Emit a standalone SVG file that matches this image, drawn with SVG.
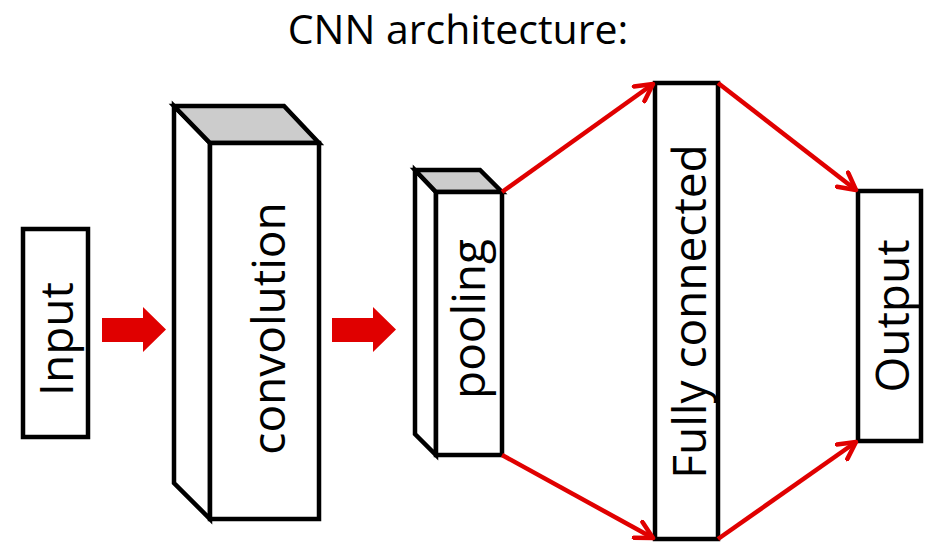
<svg xmlns="http://www.w3.org/2000/svg" width="928" height="543" viewBox="0 0 928 543">
<defs>
<style>
.box{fill:#fff;stroke:#000;stroke-width:4.5;stroke-linejoin:miter}
.top{fill:#cccccc;stroke:#000;stroke-width:4.5}
.lbl{font-family:"Open Sans",sans-serif;font-size:46px;fill:#000;text-anchor:middle}
.ttl{font-family:"Open Sans",sans-serif;font-size:41px;fill:#000;text-anchor:middle}
.con{stroke:#e00000;stroke-width:4.5;fill:none}
.blk{fill:#e00000}
</style>
<marker id="ah" viewBox="0 0 22 22" refX="19" refY="11" markerWidth="22" markerHeight="22" markerUnits="userSpaceOnUse" orient="auto">
<path d="M2,2 L19,11 L2,20" fill="none" stroke="#e00000" stroke-width="4.5" stroke-linecap="round" stroke-linejoin="round"/>
</marker>
</defs>
<rect width="928" height="543" fill="#fff"/>
<text x="458" y="44" class="ttl">CNN architecture:</text>
<g id="input">
<rect class="box" x="23" y="229" width="65" height="208"/>
<text class="lbl" transform="translate(73,339) rotate(-90)">Input</text>
</g>
<g id="convolution">
<path class="box" d="M174,106 L174,483 L210,519 L210,143 Z"/>
<path class="top" d="M174,106 L284,106 L319,143 L210,143 Z"/>
<rect class="box" x="210" y="143" width="109" height="376"/>
<text class="lbl" transform="translate(285,328.5) rotate(-90)">convolution</text>
</g>
<g id="pooling">
<path class="box" d="M415,170 L415,434 L436,455 L436,192 Z"/>
<path class="top" d="M415,170 L480,170 L502,192 L436,192 Z"/>
<rect class="box" x="436" y="192" width="66" height="263"/>
<text class="lbl" transform="translate(485,319) rotate(-90)">pooling</text>
</g>
<g id="fully-connected">
<rect class="box" x="655" y="83" width="63" height="456"/>
<text class="lbl" transform="translate(706,311.5) rotate(-90)">Fully connected</text>
</g>
<g id="output">
<rect class="box" x="858" y="191" width="63" height="250"/>
<text class="lbl" transform="translate(909,316) rotate(-90)">Output</text>
</g>
<g id="connectors">
<path class="blk" d="M102,318 L143,318 L143,307 L166,329.5 L143,352 L143,342 L102,342 Z"/>
<path class="blk" d="M332,318 L373,318 L373,307 L396,329.5 L373,352 L373,342 L332,342 Z"/>
<line class="con" x1="502" y1="192" x2="653" y2="84" marker-end="url(#ah)"/>
<line class="con" x1="502" y1="455" x2="653" y2="538" marker-end="url(#ah)"/>
<line class="con" x1="718" y1="83" x2="856" y2="190" marker-end="url(#ah)"/>
<line class="con" x1="718" y1="539" x2="856" y2="442" marker-end="url(#ah)"/>
</g>
</svg>
